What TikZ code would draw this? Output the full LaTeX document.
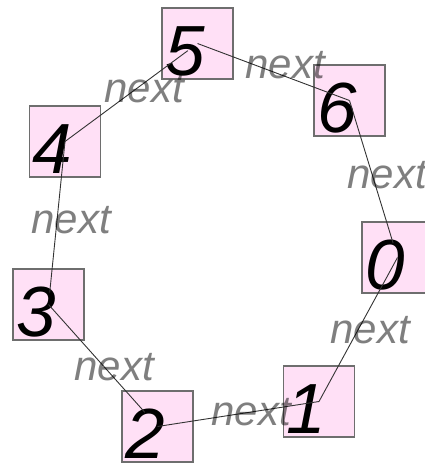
\documentclass[tikz,border=0pt]{standalone}
\usepackage{fontspec}
\setmainfont{Liberation Sans}
\definecolor{boxfill}{HTML}{FFE0F6}
\definecolor{boxline}{HTML}{6E6E6E}
\definecolor{linkcol}{HTML}{333333}
\begin{document}
\begin{tikzpicture}[x=1pt,y=-1pt,
  box/.style={draw=boxline, fill=boxfill, line width=1.3pt, minimum size=71pt, inner sep=0pt},
  digit/.style={font=\fontsize{71}{71}\selectfont\itshape, inner sep=0pt, anchor=base},
  lbl/.style={font=\fontsize{42}{42}\selectfont\itshape, text=black, text opacity=0.5, inner sep=0pt, anchor=base},
  link/.style={draw=linkcol, line width=0.9pt}]
\useasboundingbox (0,0) rectangle (425,463);
% boxes
\node[box] (n5) at (197.5,43.5) {};
\node[box] (n6) at (349.5,100.5) {};
\node[box] (n0) at (397.5,257.5) {};
\node[box] (n1) at (319,401.5) {};
\node[box] (n2) at (157.5,426.5) {};
\node[box] (n3) at (48.5,304.5) {};
\node[box] (n4) at (65,141.5) {};
% digits
\node[digit] (d5) at (185,75) {5};
\node[digit] (d6) at (337,132) {6};
\node[digit] (d0) at (385,289) {0};
\node[digit] (d1) at (306.5,433) {1};
\node[digit] (d2) at (145,458) {2};
\node[digit] (d3) at (36,336) {3};
\node[digit] (d4) at (52.5,173) {4};
% connectors
\draw[link, shorten >=12pt] (n4.center) -- (n5.center);
\draw[link] (n5.center) -- (n6.center);
\draw[link, shorten >=15pt] (n6.center) -- (n0.center);
\draw[link] (n0.center) -- (n1.center);
\draw[link] (n1.center) -- (n2.center);
\draw[link, shorten >=19pt] (n3.center) -- (n2.center);
\draw[link, shorten >=12pt] (n4.center) -- (n3.center);
% labels
\node[lbl] (l45) at (144,102) {next};
\node[lbl] (l56) at (285,78) {next};
\node[lbl] (l60) at (387,188) {next};
\node[lbl] (l01) at (370,343) {next};
\node[lbl] (l12) at (251,425) {next};
\node[lbl] (l23) at (114,380) {next};
\node[lbl] (l34) at (71,233) {next};
\end{tikzpicture}
\end{document}
